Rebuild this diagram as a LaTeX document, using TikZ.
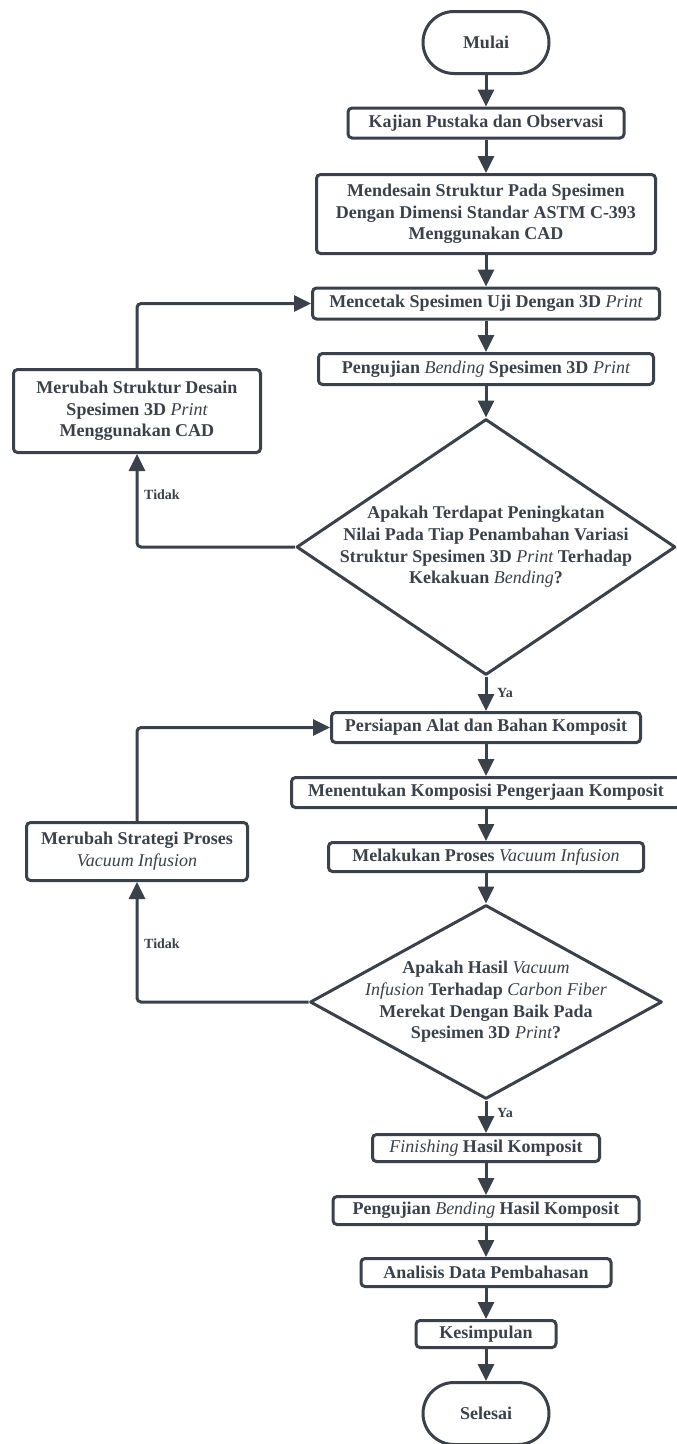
\documentclass[tikz,border=0pt]{standalone}
\usepackage{fontspec}
\setmainfont{Liberation Serif}
\usetikzlibrary{arrows.meta,positioning,shapes.geometric,shapes.misc}
\definecolor{ink}{HTML}{3A414B}
\tikzset{arr/.style={draw=ink, -{Triangle[length=17pt,width=16pt]}, line width=3pt, rounded corners=4pt}}
\tikzset{txt/.style={align=center, text=ink, inner sep=2pt, font=\fontsize{18}{21.7}\selectfont\bfseries}}
\tikzset{box/.style={txt, draw=ink, line width=3pt, rounded corners=4pt}}
\tikzset{term/.style={txt, draw=ink, line width=3pt, rounded rectangle, minimum width=130pt, minimum height=62pt}}
\tikzset{dec/.style={draw=ink, line width=3pt, diamond, line join=round, inner sep=0pt}}
\tikzset{lbl/.style={text=ink, inner sep=0pt, font=\fontsize{14}{16}\selectfont\bfseries}}
\newcommand{\ital}[1]{{\mdseries\itshape #1}}

\begin{document}
\begin{tikzpicture}[x=1pt,y=-1pt]
        \useasboundingbox (0,0) rectangle (677,1444);
        \node[term] (T1) at (486,42.5) {Mulai};
        \node[box, minimum width=276pt, minimum height=30pt] (P1) at (486,123) {Kajian Pustaka dan Observasi};
        \node[box, minimum width=339pt, minimum height=79pt] (P2) at (486,214) {
            Mendesain Struktur Pada Spesimen\\
            Dengan Dimensi Standar ASTM C-393\\
            Menggunakan CAD};
        \node[box, minimum width=347pt, minimum height=31pt] (P3) at (486,303.5) {Mencetak Spesimen Uji Dengan 3D \ital{Print}};
        \node[box, minimum width=335pt, minimum height=31pt] (P4) at (486,369) {Pengujian \ital{Bending} Spesimen 3D \ital{Print}};
        \node[dec, minimum width=379pt, minimum height=256pt] (D1) at (486,547) {};
        \node[txt] (D1t) at (D1) {
            Apakah Terdapat Peningkatan\\
            Nilai Pada Tiap Penambahan Variasi\\
            Struktur Spesimen 3D \ital{Print} Terhadap\\
            Kekakuan \ital{Bending}?};
        \node[box, minimum width=247pt, minimum height=83pt] (U1) at (137,411) {
            Merubah Struktur Desain\\
            Spesimen 3D \ital{Print}\\
            Menggunakan CAD};
        \node[box, minimum width=309pt, minimum height=30pt] (P5) at (486,727.5) {Persiapan Alat dan Bahan Komposit};
        \node[box, minimum width=389pt, minimum height=30pt] (P6) at (486,792.5) {Menentukan Komposisi Pengerjaan Komposit};
        \node[box, minimum width=315pt, minimum height=29pt] (P7) at (486,857) {Melakukan Proses \ital{Vacuum Infusion}};
        \node[dec, minimum width=352pt, minimum height=194pt] (D2) at (486,1002) {};
        \node[txt] (D2t) at (D2) {
            Apakah Hasil \ital{Vacuum}\\
            \ital{Infusion} Terhadap \ital{Carbon Fiber}\\
            Merekat Dengan Baik Pada\\
            Spesimen 3D \ital{Print}?};
        \node[box, minimum width=221pt, minimum height=58pt] (U2) at (137,851.5) {
            Merubah Strategi Proses\\
            \ital{Vacuum Infusion}};
        \node[box, minimum width=227pt, minimum height=27pt] (P8) at (486,1148) {\ital{Finishing} Hasil Komposit};
        \node[box, minimum width=306pt, minimum height=28pt] (P9) at (486,1210.5) {Pengujian \ital{Bending} Hasil Komposit};
        \node[box, minimum width=250pt, minimum height=28pt] (P10) at (486,1272.5) {Analisis Data Pembahasan};
        \node[box, minimum width=140pt, minimum height=27pt] (P11) at (486,1334) {Kesimpulan};
        \node[term] (T2) at (486,1413.5) {Selesai};
        \node[lbl, anchor=west] (L1) at (144,495) {Tidak};
        \node[lbl, anchor=west] (L2) at (497,693) {Ya};
        \node[lbl, anchor=west] (L3) at (144,944) {Tidak};
        \node[lbl, anchor=west] (L4) at (497,1113) {Ya};
        \draw[arr] (T1.south) -- (P1.north);
        \draw[arr] (P1.south) -- (P2.north);
        \draw[arr] (P2.south) -- (P3.north);
        \draw[arr] (P3.south) -- (P4.north);
        \draw[arr] (P4.south) -- (D1.north);
        \draw[arr] (D1.west) -| (U1.south);
        \draw[arr] (U1.north) |- (P3.west);
        \draw[arr] (D1.south) -- (P5.north);
        \draw[arr] (P5.south) -- (P6.north);
        \draw[arr] (P6.south) -- (P7.north);
        \draw[arr] (P7.south) -- (D2.north);
        \draw[arr] (D2.west) -| (U2.south);
        \draw[arr] (U2.north) |- (P5.west);
        \draw[arr] (D2.south) -- (P8.north);
        \draw[arr] (P8.south) -- (P9.north);
        \draw[arr] (P9.south) -- (P10.north);
        \draw[arr] (P10.south) -- (P11.north);
        \draw[arr] (P11.south) -- (T2.north);
    \end{tikzpicture}
\end{document}
